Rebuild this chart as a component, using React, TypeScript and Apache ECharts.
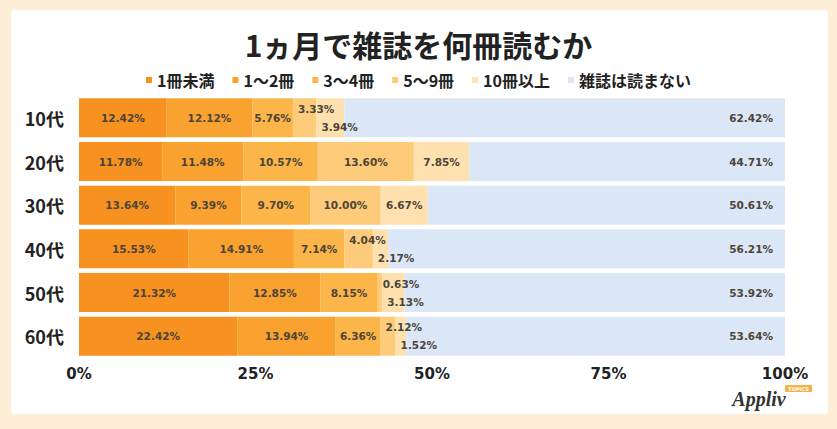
import * as echarts from 'echarts';
import React, { useEffect, useRef } from 'react';

const ages = ['10代', '20代', '30代', '40代', '50代', '60代'];
const seriesNames = ['1冊未満', '1〜2冊', '3〜4冊', '5〜9冊', '10冊以上', '雑誌は読まない'];
const colors = ['#F7911F', '#F9A22F', '#FBB548', '#FDCB7A', '#FEE1AF', '#DBE7F6'];

const lessThanOne = [12.42, 11.78, 13.64, 15.53, 21.32, 22.42];
const oneToTwo = [12.12, 11.48, 9.39, 14.91, 12.85, 13.94];
const threeToFour = [5.76, 10.57, 9.7, 7.14, 8.15, 6.36];
const fiveToNine = [3.33, 13.6, 10.0, 4.04, 0.63, 2.12];
const tenOrMore = [3.94, 7.85, 6.67, 2.17, 3.13, 1.52];
const noMagazine = [62.42, 44.71, 50.61, 56.21, 53.92, 53.64];

const xTicks = [0, 25, 50, 75, 100];

const labelFont = {
  fontFamily: 'DejaVu Sans',
  fontWeight: 'bold' as const,
  fontSize: 10.5,
  color: '#4d4438',
};

// 細いセグメントは上下に振り分ける
const isSplit = (i: number) => fiveToNine[i] < 5 && tenOrMore[i] < 5;

const App: React.FC = () => {
  const chartRef = useRef<HTMLDivElement>(null);

  useEffect(() => {
    document.body.style.margin = '0';
    if (!chartRef.current) return;

    const chart = echarts.init(chartRef.current, undefined, { renderer: 'svg' });

    const rows = [lessThanOne, oneToTwo, threeToFour, fiveToNine, tenOrMore, noMagazine];

    const series: echarts.BarSeriesOption[] = rows.map((values, k) => {
      const data = values.map((v, i) => {
        if (k === 3 && isSplit(i)) {
          return { value: v, label: { position: 'insideTopLeft' as const, distance: 5 } };
        }
        if (k === 4 && isSplit(i)) {
          return { value: v, label: { position: 'insideBottomLeft' as const, distance: 5 } };
        }
        return v;
      });
      return {
        name: seriesNames[k],
        type: 'bar',
        stack: 'total',
        barWidth: 39,
        data,
        itemStyle: { color: colors[k] },
        label: {
          show: true,
          position: k === 5 ? 'insideRight' : 'inside',
          distance: k === 5 ? 12 : 5,
          formatter: (p: any) => `${Number(p.value).toFixed(2)}%`,
          ...labelFont,
        },
      };
    });

    const option: echarts.EChartsOption = {
      animation: false,
      title: {
        text: '1ヵ月で雑誌を何冊読むか',
        left: 'center',
        top: 24,
        textStyle: {
          color: '#222',
          fontSize: 30,
          fontWeight: 'bold',
          fontFamily: 'Noto Sans CJK JP',
        },
      },
      legend: {
        top: 67,
        left: 'center',
        icon: 'rect',
        itemWidth: 6,
        itemHeight: 6,
        itemGap: 18,
        data: seriesNames,
        textStyle: {
          color: '#222',
          fontSize: 16,
          fontWeight: 'bold',
          fontFamily: 'Noto Sans CJK JP',
        },
      },
      grid: {
        left: 79,
        right: 52,
        top: 96,
        bottom: 71,
      },
      xAxis: {
        type: 'value',
        min: xTicks[0],
        max: xTicks[xTicks.length - 1],
        interval: 25,
        axisLine: { show: false },
        axisTick: { show: false },
        splitLine: { show: false },
        axisLabel: {
          margin: 8,
          formatter: '{value}%',
          color: '#222',
          fontSize: 15,
          fontWeight: 'bold',
          fontFamily: 'DejaVu Sans',
        },
      },
      yAxis: {
        type: 'category',
        data: ages,
        inverse: true,
        axisLine: { show: false },
        axisTick: { show: false },
        axisLabel: {
          margin: 15,
          color: '#222',
          fontSize: 18,
          fontWeight: 'bold',
          fontFamily: 'Noto Sans CJK JP',
        },
      },
      graphic: [
        {
          type: 'rect',
          z: -10,
          silent: true,
          shape: { x: 11, y: 10, width: 817, height: 404, r: 4 },
          style: { fill: '#ffffff' },
        },
        {
          type: 'rect',
          z: 10,
          shape: { x: 785, y: 385, width: 27, height: 7, r: 1 },
          style: { fill: '#F2B44A' },
        },
        {
          type: 'text',
          z: 11,
          x: 798.5,
          y: 388.5,
          style: {
            text: 'TOPICS',
            fill: '#ffffff',
            fontSize: 5,
            fontWeight: 'bold',
            fontFamily: 'DejaVu Sans',
            align: 'center',
            verticalAlign: 'middle',
          },
        },
        {
          type: 'text',
          z: 10,
          x: 759,
          y: 399,
          style: {
            text: 'Appliv',
            fill: '#333',
            fontSize: 20,
            fontStyle: 'italic',
            fontWeight: 'bold',
            fontFamily: 'Liberation Serif',
            align: 'center',
            verticalAlign: 'middle',
          },
        },
      ],
      series,
    };

    chart.setOption(option);

    const handleResize = () => chart.resize();
    window.addEventListener('resize', handleResize);

    return () => {
      window.removeEventListener('resize', handleResize);
      chart.dispose();
    };
  }, []);

  return (
    <div
      ref={chartRef}
      style={{
        width: '837px',
        height: '429px',
        background: '#FDEFD7',
      }}
    />
  );
};

export default App;
